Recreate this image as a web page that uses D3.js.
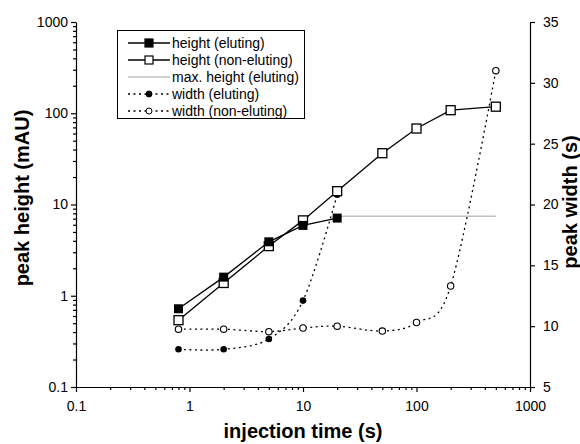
<!DOCTYPE html>
<html>
<head>
<meta charset="utf-8">
<script src="https://cdn.jsdelivr.net/npm/d3@7/dist/d3.min.js"></script>
<style>
  body { margin: 0; background: #fff; }
  svg { font-family: "Liberation Sans", Arial, sans-serif; }
  .axis path, .axis line { stroke: #000; stroke-width: 1.2; }
  .axis text { font-size: 14px; fill: #000; }
  .title { font-size: 20px; font-weight: bold; fill: #000; }
  .legend text { font-size: 14px; fill: #000; }
</style>
</head>
<body>
<script>
// injection times (s)
var timesEluting = [0.8, 2, 5, 10, 20];
var timesNonEluting = [0.8, 2, 5, 10, 20, 50, 100, 200, 500];

// peak height (mAU), left axis
var heightEluting = [0.72, 1.6, 3.9, 5.9, 7.1];
var heightNonEluting = [0.54, 1.38, 3.5, 6.7, 14, 36.5, 68, 108, 118];
var maxHeightTimes = [20, 500];
var maxHeightEluting = [7.45, 7.45];

// peak width (s), right axis
var widthEluting = [8.1, 8.1, 8.95, 12.1, 20.8];
var widthNonEluting = [9.75, 9.75, 9.55, 9.85, 10.0, 9.6, 10.3, 13.3, 31];

var xTicks = [0.1, 1, 10, 100, 1000];
var xTickLabels = ["0.1", "1", "10", "100", "1000"];
var yLeftTicks = [0.1, 1, 10, 100, 1000];
var yLeftTickLabels = ["0.1", "1", "10", "100", "1000"];
var yRightTicks = [5, 10, 15, 20, 25, 30, 35];

var legendLabels = ["height (eluting)", "height (non-eluting)", "max. height (eluting)",
  "width (eluting)", "width (non-eluting)"];

var svg = d3.select("body").append("svg")
    .attr("width", 580)
    .attr("height", 444);

var pLeft = 76, pRight = 530, pTop = 22, pBottom = 387;

var x = d3.scaleLog().domain([0.1, 1000]).range([pLeft, pRight]);
var yL = d3.scaleLog().domain([0.1, 1000]).range([pBottom, pTop]);
var yR = d3.scaleLinear().domain([5, 35]).range([pBottom, pTop]);

// minor ticks for log axes
function minors(lo, hi) {
    var out = [];
    for (var d = lo; d < hi; d *= 10)
        for (var k = 2; k <= 9; k++) out.push(d * k);
    return out;
}

svg.append("g").attr("class", "axis")
    .attr("transform", "translate(0," + pBottom + ")")
    .call(d3.axisBottom(x).tickValues(minors(0.1, 1000)).tickSize(3).tickFormat(""))
    .select(".domain").remove();
svg.append("g").attr("class", "axis")
    .attr("transform", "translate(0," + pBottom + ")")
    .call(d3.axisBottom(x).tickValues(xTicks).tickSize(5).tickSizeOuter(0).tickPadding(9)
        .tickFormat(function (d, i) { return xTickLabels[i]; }));

svg.append("g").attr("class", "axis")
    .attr("transform", "translate(" + pLeft + ",0)")
    .call(d3.axisLeft(yL).tickValues(minors(0.1, 1000)).tickSize(3).tickFormat(""))
    .select(".domain").remove();
svg.append("g").attr("class", "axis")
    .attr("transform", "translate(" + pLeft + ",0)")
    .call(d3.axisLeft(yL).tickValues(yLeftTicks).tickSize(5).tickSizeOuter(0).tickPadding(3)
        .tickFormat(function (d, i) { return yLeftTickLabels[i]; }));

svg.append("g").attr("class", "axis")
    .attr("transform", "translate(" + pRight + ",0)")
    .call(d3.axisRight(yR).tickValues(yRightTicks).tickSize(5).tickSizeOuter(0).tickPadding(8));

svg.selectAll(".axis").attr("font-family", null).attr("font-size", null);

// titles
svg.append("text").attr("class", "title")
    .attr("x", 303).attr("y", 438)
    .attr("text-anchor", "middle")
    .text("injection time (s)");
svg.append("text").attr("class", "title")
    .attr("transform", "translate(29,198) rotate(-90)")
    .attr("text-anchor", "middle")
    .text("peak height (mAU)");
svg.append("text").attr("class", "title")
    .attr("transform", "translate(577,202) rotate(-90)")
    .attr("text-anchor", "middle")
    .text("peak width (s)");

function zip(xs, ys) {
    return xs.map(function (t, i) { return [t, ys[i]]; });
}

var lineL = d3.line().x(function (d) { return x(d[0]); }).y(function (d) { return yL(d[1]); });
var lineR = d3.line().x(function (d) { return x(d[0]); }).y(function (d) { return yR(d[1]); })
    .curve(d3.curveCatmullRom.alpha(0));

var plot = svg.append("g");

// max height (eluting)
plot.append("path")
    .attr("d", lineL(zip(maxHeightTimes, maxHeightEluting)))
    .attr("fill", "none").attr("stroke", "#888").attr("stroke-width", 0.8);

// widths, dotted smoothed lines
plot.append("path")
    .attr("d", lineR(zip(timesEluting, widthEluting)))
    .attr("fill", "none").attr("stroke", "#000").attr("stroke-width", 1.3)
    .attr("stroke-dasharray", "2,3.5");
plot.append("path")
    .attr("d", lineR(zip(timesNonEluting, widthNonEluting)))
    .attr("fill", "none").attr("stroke", "#000").attr("stroke-width", 1.3)
    .attr("stroke-dasharray", "2,3.5");

// heights, solid lines
plot.append("path")
    .attr("d", lineL(zip(timesNonEluting, heightNonEluting)))
    .attr("fill", "none").attr("stroke", "#000").attr("stroke-width", 1.3);
plot.append("path")
    .attr("d", lineL(zip(timesEluting, heightEluting)))
    .attr("fill", "none").attr("stroke", "#000").attr("stroke-width", 1.3);

plot.selectAll(".cw-e").data(zip(timesEluting, widthEluting)).enter().append("circle")
    .attr("cx", function (d) { return x(d[0]); })
    .attr("cy", function (d) { return yR(d[1]); })
    .attr("r", 3.3).attr("fill", "#000");
plot.selectAll(".cw-n").data(zip(timesNonEluting, widthNonEluting)).enter().append("circle")
    .attr("cx", function (d) { return x(d[0]); })
    .attr("cy", function (d) { return yR(d[1]); })
    .attr("r", 3.2).attr("fill", "#fff").attr("stroke", "#000").attr("stroke-width", 1.1);

plot.selectAll(".sq-n").data(zip(timesNonEluting, heightNonEluting)).enter().append("rect")
    .attr("x", function (d) { return x(d[0]) - 4.5; })
    .attr("y", function (d) { return yL(d[1]) - 4.5; })
    .attr("width", 9).attr("height", 9)
    .attr("fill", "#fff").attr("stroke", "#000").attr("stroke-width", 1.3);
plot.selectAll(".sq-e").data(zip(timesEluting, heightEluting)).enter().append("rect")
    .attr("x", function (d) { return x(d[0]) - 4.5; })
    .attr("y", function (d) { return yL(d[1]) - 4.5; })
    .attr("width", 9).attr("height", 9)
    .attr("fill", "#000");

// legend
var legend = svg.append("g").attr("class", "legend");
legend.append("rect")
    .attr("x", 117.5).attr("y", 30.5).attr("width", 187).attr("height", 88)
    .attr("fill", "#fff").attr("stroke", "#000").attr("stroke-width", 1);

var rows = legend.selectAll(".row").data(legendLabels).enter().append("g")
    .attr("transform", function (d, i) { return "translate(128," + (43 + i * 17) + ")"; });

rows.append("line")
    .attr("x1", 0).attr("x2", 42).attr("y1", 0).attr("y2", 0)
    .attr("stroke", function (d, i) { return i === 2 ? "#888" : "#000"; })
    .attr("stroke-width", function (d, i) { return i === 2 ? 0.8 : 1.3; })
    .attr("stroke-dasharray", function (d, i) { return i > 2 ? "2,3.5" : null; });

rows.filter(function (d, i) { return i < 2; }).append("rect")
    .attr("x", 17).attr("y", -4).attr("width", 8).attr("height", 8)
    .attr("fill", function (d, i) { return i === 0 ? "#000" : "#fff"; })
    .attr("stroke", "#000").attr("stroke-width", 1.2);

rows.filter(function (d, i) { return i > 2; }).append("circle")
    .attr("cx", 21).attr("cy", 0).attr("r", 3)
    .attr("fill", function (d, i) { return i === 0 ? "#000" : "#fff"; })
    .attr("stroke", "#000").attr("stroke-width", 1);

rows.append("text")
    .attr("x", 44).attr("dy", "0.35em")
    .text(function (d) { return d; });
</script>
</body>
</html>
